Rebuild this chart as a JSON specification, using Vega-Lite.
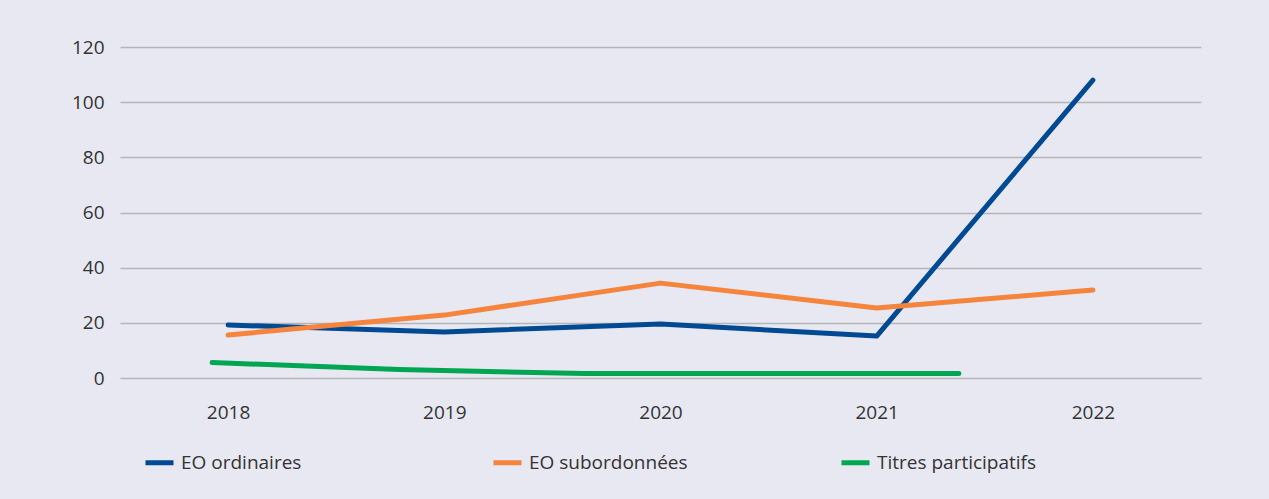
{
  "$schema": "https://vega.github.io/schema/vega-lite/v6.json",
  "width": 1081,
  "height": 331,
  "autosize": {"type": "none"},
  "padding": {"left": 120, "top": 47, "right": 68, "bottom": 121},
  "background": "#e8e8f2",
  "config": {
    "view": {"stroke": null},
    "font": "Open Sans",
    "axis": {"labelFont": "Open Sans", "labelColor": "#333333", "labelFontSize": 19},
    "legend": {"labelFont": "Open Sans", "labelColor": "#333333", "labelFontSize": 19}
  },
  "data": {
    "values": [
      {"series": "EO ordinaires", "year": 2018, "value": 19.2},
      {"series": "EO ordinaires", "year": 2019, "value": 16.7},
      {"series": "EO ordinaires", "year": 2020, "value": 19.6},
      {"series": "EO ordinaires", "year": 2021, "value": 15.2},
      {"series": "EO ordinaires", "year": 2022, "value": 108},
      {"series": "EO subordonnées", "year": 2018, "value": 15.6},
      {"series": "EO subordonnées", "year": 2019, "value": 22.8},
      {"series": "EO subordonnées", "year": 2020, "value": 34.4},
      {"series": "EO subordonnées", "year": 2021, "value": 25.4},
      {"series": "EO subordonnées", "year": 2022, "value": 31.9},
      {"series": "Titres participatifs", "year": 2017.926, "value": 5.6},
      {"series": "Titres participatifs", "year": 2018.79, "value": 3.1},
      {"series": "Titres participatifs", "year": 2019.65, "value": 1.6},
      {"series": "Titres participatifs", "year": 2020.51, "value": 1.6},
      {"series": "Titres participatifs", "year": 2021.38, "value": 1.6}
    ]
  },
  "mark": {"type": "line", "strokeWidth": 5, "strokeCap": "round", "strokeJoin": "round"},
  "encoding": {
    "x": {
      "field": "year",
      "type": "quantitative",
      "scale": {"domain": [2017.5, 2022.5], "nice": false, "zero": false},
      "axis": {
        "title": null,
        "values": [2018, 2019, 2020, 2021, 2022],
        "format": "d",
        "grid": false,
        "domain": false,
        "ticks": false,
        "labelPadding": 25
      }
    },
    "y": {
      "field": "value",
      "type": "quantitative",
      "scale": {"domain": [0, 120], "nice": false},
      "axis": {
        "title": null,
        "values": [0, 20, 40, 60, 80, 100, 120],
        "grid": true,
        "gridColor": "#b4b4bc",
        "gridWidth": 1.5,
        "domain": false,
        "ticks": false,
        "labelPadding": 16
      }
    },
    "color": {
      "field": "series",
      "type": "nominal",
      "scale": {
        "domain": ["EO ordinaires", "EO subordonnées", "Titres participatifs"],
        "range": ["#004a94", "#f5843c", "#00a651"]
      },
      "legend": {
        "title": null,
        "orient": "none",
        "legendX": 23,
        "legendY": 399,
        "direction": "horizontal",
        "columns": 3,
        "gridAlign": "all",
        "columnPadding": 142,
        "symbolType": "stroke",
        "symbolSize": 784,
        "symbolStrokeWidth": 5,
        "labelOffset": 5
      }
    }
  }
}
